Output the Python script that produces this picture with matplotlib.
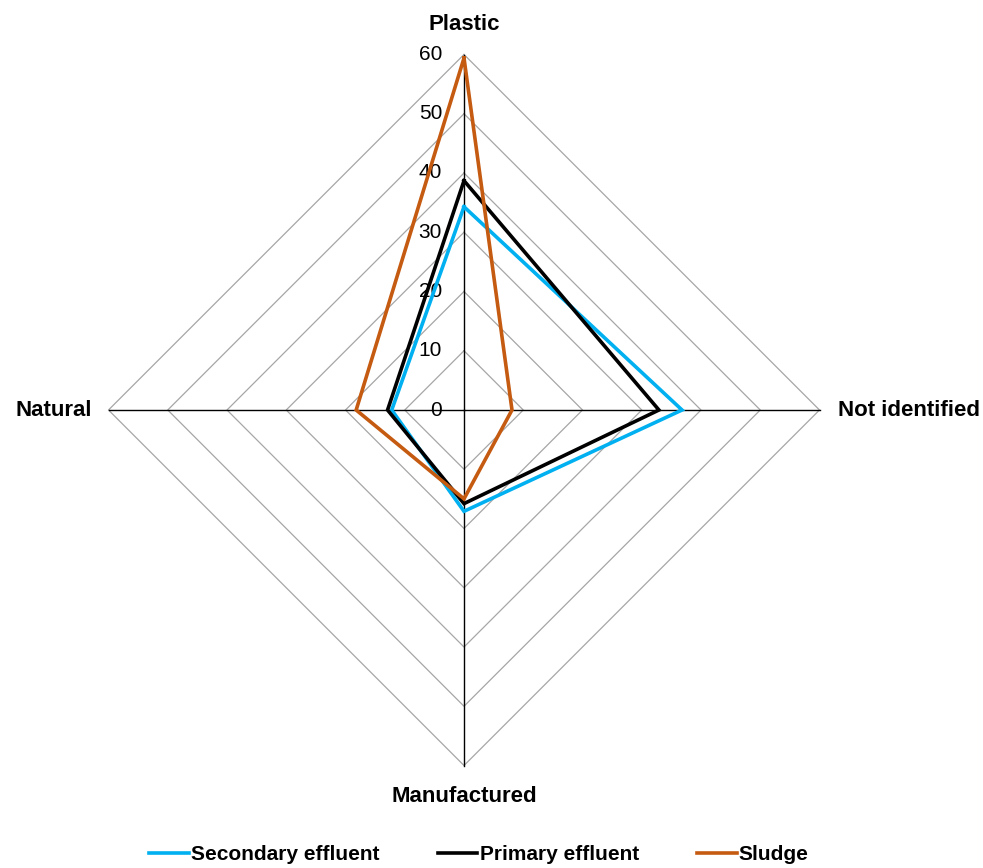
import numpy as np
import matplotlib
matplotlib.use("Agg")
import matplotlib.pyplot as plt

categories = ["Plastic", "Not identified", "Manufactured", "Natural"]
secondary = [34.3, 36.8, 17.1, 12.2]
primary = [38.7, 32.9, 15.8, 12.9]
sludge = [59.4, 8.1, 15.0, 18.2]
series_names = ["Secondary effluent", "Primary effluent", "Sludge"]
series_colors = ["#00b0f0", "#000000", "#c55a11"]
ticks = [0, 10, 20, 30, 40, 50, 60]

plt.rcParams["font.family"] = ["Liberation Sans", "DejaVu Sans"]

# clockwise from the top
angles = np.pi / 2 - np.arange(len(categories)) * 2 * np.pi / len(categories)


def to_xy(vals):
    vals = np.asarray(vals, dtype=float)
    x = vals * np.cos(angles)
    y = vals * np.sin(angles)
    return np.append(x, x[0]), np.append(y, y[0])


W, H = 983, 868
fig = plt.figure(figsize=(W / 100, H / 100), dpi=100)
cx, cy, half = 464, 410, 400
scale = 355.5 / 60
R = half / scale
ax = fig.add_axes([(cx - half) / W, (H - cy - half) / H, 2 * half / W, 2 * half / H])
ax.set_xlim(-R, R)
ax.set_ylim(-R, R)
ax.set_aspect("equal")
ax.axis("off")

# diamond grid
for t in ticks[1:]:
    gx, gy = to_xy([t] * len(categories))
    ax.plot(gx, gy, color="#a6a6a6", lw=0.9, zorder=1)
# spokes
for a in angles:
    ax.plot([0, ticks[-1] * np.cos(a)], [0, ticks[-1] * np.sin(a)],
            color="black", lw=1.0, zorder=2)

for t in ticks:
    ax.text(-3.7, t, str(t), ha="right", va="center", fontsize=15, zorder=2)

for vals, name, col in zip([secondary, primary, sludge], series_names, series_colors):
    sx, sy = to_xy(vals)
    ax.plot(sx, sy, color=col, lw=2.6, label=name, zorder=3, solid_joinstyle="miter")

# category labels
lab = dict(fontsize=16, fontweight="bold")
ax.text(0, 65, categories[0], ha="center", va="center", **lab)
ax.text(63.2, 0, categories[1], ha="left", va="center", **lab)
ax.text(0, -65.3, categories[2], ha="center", va="center", **lab)
ax.text(-62.8, 0, categories[3], ha="right", va="center", **lab)

leg = fig.legend(loc="center", bbox_to_anchor=(479 / W, 1 - 855 / H), ncol=3,
                 frameon=False, handlelength=1.9, handletextpad=0.1,
                 columnspacing=2.8, prop={"size": 15, "weight": "bold"})

fig.savefig("out.png", dpi=100)
